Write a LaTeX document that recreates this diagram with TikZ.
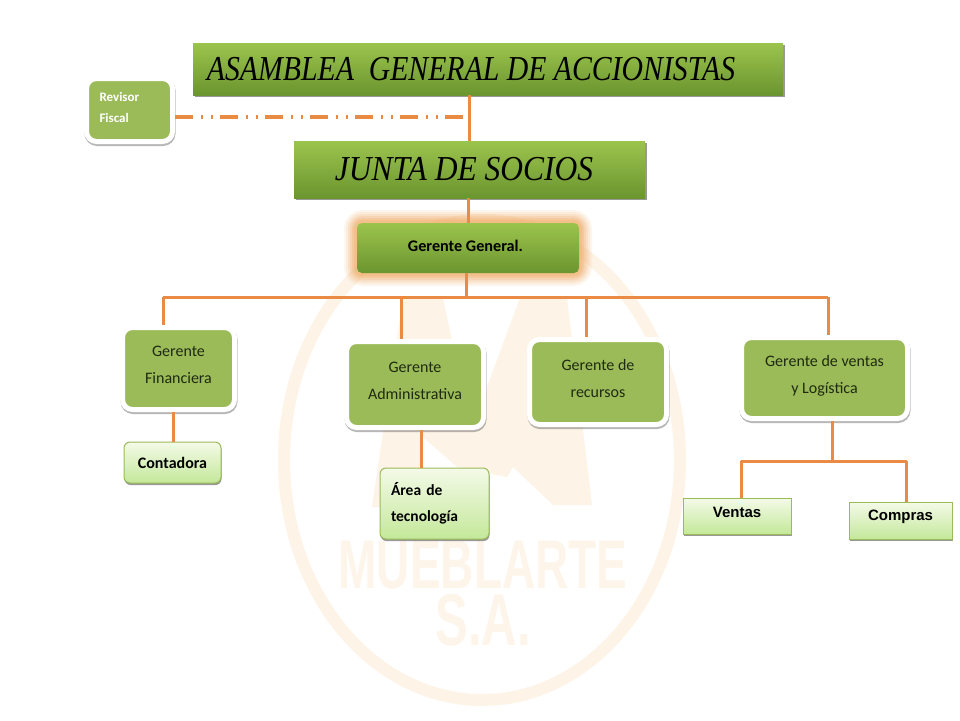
\documentclass[tikz,border=0pt]{standalone}
\usepackage{graphicx}
\usepackage{fontspec}
\usepackage{tikz}
\usetikzlibrary{shadows}
\setmainfont{Carlito}
\newfontfamily\handfont{Liberation Serif}
\newfontfamily\arialfont{Liberation Sans}
\definecolor{linkcolor}{HTML}{E98A45}
\definecolor{glowcolor}{HTML}{F0A860}
\definecolor{markcolor}{HTML}{FDF3E6}
\definecolor{namecolor}{HTML}{FEF5EA}
\definecolor{bandtop}{HTML}{9BC44D}
\definecolor{bandlow}{HTML}{6B952F}
\definecolor{flatgreen}{HTML}{9BBB59}
\definecolor{palegreen}{HTML}{F4FAE8}
\definecolor{limegreen}{HTML}{C4E89A}
\definecolor{inkcolor}{HTML}{1F2A10}
\tikzstyle{titlebox} = [
    rectangle,
    top color=bandtop,
    bottom color=bandlow,
    text=black,
    drop shadow={shadow xshift=1.5pt,shadow yshift=-2pt,fill=black!80,opacity=.5}
    ]
\tikzstyle{chiefbox} = [
    rectangle,
    rounded corners=5pt,
    top color=bandtop,
    bottom color=bandlow,
    text=black,
    font=\bfseries\fontsize{16.2}{20}\selectfont
    ]
\tikzstyle{mainbox} = [
    rectangle,
    rounded corners=10pt,
    fill=flatgreen,
    draw=white,
    line width=5pt,
    align=center,
    text=inkcolor,
    text depth=7pt,
    font=\fontsize{16}{27.5}\selectfont,
    drop shadow={shadow xshift=0.5pt,shadow yshift=-2pt,draw=black!70,fill=black!70,opacity=.4}
    ]
\tikzstyle{subbox} = [
    rectangle,
    rounded corners=6pt,
    top color=palegreen,
    bottom color=limegreen,
    draw=flatgreen,
    line width=1pt,
    text=black,
    font=\bfseries\fontsize{16}{26}\selectfont,
    drop shadow={shadow xshift=0.5pt,shadow yshift=-2pt,fill=black!80,opacity=.5}
    ]
\tikzstyle{plainbox} = [
    subbox,
    rounded corners=0pt,
    font=\arialfont\bfseries\fontsize{15}{18}\selectfont
    ]
\tikzstyle{link} = [draw=linkcolor, line width=3pt]
\tikzstyle{dashlink} = [draw=linkcolor, line width=3.5pt,
    dash pattern=on 18pt off 8pt on 2pt off 8pt on 2pt off 7pt]
\begin{document}
\begin{tikzpicture}[x=1pt,y=-1pt]
\useasboundingbox (0,0) rectangle (960,720);
\fill[white] (0,0) rectangle (960,720);

% watermark behind the chart
\draw[markcolor, line width=12pt] (482,460) ellipse [x radius=198, y radius=240];
\fill[markcolor] (372,507) -- (403,298) -- (443,298) -- (471,430) -- (520,298) -- (567,298) -- (592,505)
    -- (553,505) -- (513,467) -- (507,477) -- (457,467) -- (423,437) -- (420,507) -- cycle;
\node[inner sep=0pt, align=center, text=namecolor, font=\arialfont\bfseries\fontsize{46}{57}\selectfont] (markname) at (483,594)
    {\scalebox{1}[1.5]{MUEBLARTE}\\\fontsize{49}{57}\selectfont\scalebox{1}[1.5]{S.A.}};

% glow of the general manager
\foreach \w/\o in {26/.10,22/.12,18/.15,14/.2,10/.25,6/.3}
    \draw[glowcolor, line width=\w pt, opacity=\o, rounded corners=6pt] (357,223) rectangle (579,273);

\node[titlebox, minimum width=590pt, minimum height=52pt] (asamblea) at (488,69)
    {\hspace*{-34pt}\handfont\itshape\fontsize{35}{35}\selectfont\scalebox{0.85}[1]{ASAMBLEA\ \ GENERAL DE ACCIONISTAS}};
\node[titlebox, minimum width=351pt, minimum height=57pt] (junta) at (469.5,169.5)
    {\hspace*{-11pt}\handfont\itshape\fontsize{35}{35}\selectfont\scalebox{0.9}[1]{JUNTA DE SOCIOS}};
\node[chiefbox, minimum width=222pt, minimum height=50pt] (general) at (468,248)
    {\hspace*{-5pt}\raisebox{4pt}{Gerente General.}};

\node[mainbox, text width=60pt, minimum width=86pt, minimum height=63pt, align=left, text=white, text depth=27pt,
    font=\bfseries\fontsize{13}{21}\selectfont] (revisor) at (129.5,110) {Revisor\\Fiscal};
\node[mainbox, minimum width=112pt, minimum height=82pt] (financiera) at (178.5,368.5) {Gerente\\Financiera};
\node[mainbox, minimum width=137pt, minimum height=86pt] (administrativa) at (415,384.5) {Gerente\\Administrativa};
\node[mainbox, minimum width=137pt, minimum height=85pt] (recursos) at (598,382) {Gerente de\\recursos};
\node[mainbox, minimum width=166pt, minimum height=81pt] (logistica) at (824.5,378) {Gerente de ventas\\y Logística};

\node[subbox, minimum width=97pt, minimum height=41pt] (contadora) at (172.5,462.5) {Contadora};
\node[subbox, text width=87pt, minimum width=109pt, minimum height=71pt, align=left,
    font=\bfseries\fontsize{15.5}{26.5}\selectfont] (tecnologia) at (434.5,503.5) {Área de\\tecnología};
\node[plainbox, minimum width=108pt, minimum height=36pt] (ventas) at (737,516) {\raisebox{8pt}{Ventas}};
\node[plainbox, minimum width=103pt, minimum height=37pt] (compras) at (900.5,520.5) {\raisebox{11pt}{Compras}};

% bars of the tree
\coordinate (barleft) at (163,297);
\coordinate (bartwo) at (401,297);
\coordinate (barthree) at (586,297);
\coordinate (barright) at (828,297);
\coordinate (barcentre) at (466,297);
\coordinate (saleleft) at (741,461);
\coordinate (saleright) at (906,461);
\coordinate (salecentre) at (832,461);
\coordinate (fiscal) at (469,117);

\draw[link] (barleft) -- (barright);
\draw[link] (barcentre) -- (barcentre |- general.south);
\draw[link] (fiscal |- asamblea.south) -- (fiscal |- junta.north);
\draw[link] (468,0 |- junta.south) -- (468,0 |- general.north);
\draw[dashlink] (revisor.east |- fiscal) -- (fiscal);
\draw[link] (barleft) -- (barleft |- financiera.north);
\draw[link] (bartwo) -- (bartwo |- administrativa.north);
\draw[link] (barthree) -- (barthree |- recursos.north);
\draw[link] (barright) -- (barright |- logistica.north);
\draw[link] (173,0 |- financiera.south) -- (173,0 |- contadora.north);
\draw[link] (421,0 |- administrativa.south) -- (421,0 |- tecnologia.north);
\draw[link] (salecentre |- logistica.south) -- (salecentre);
\draw[link, line join=round] (saleleft |- ventas.north) -- (saleleft) -- (saleright) -- (saleright |- compras.north);
\end{tikzpicture}
\end{document}
